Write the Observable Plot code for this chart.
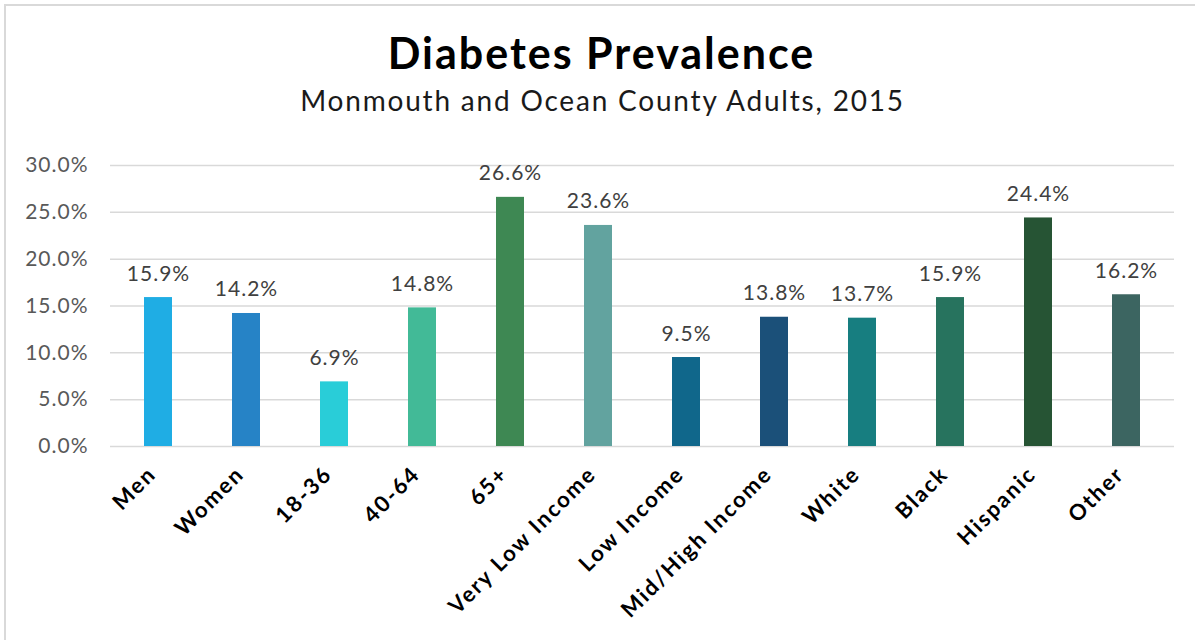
<!DOCTYPE html>
<html>
<head>
<meta charset="utf-8">
<script src="https://cdn.jsdelivr.net/npm/d3@7"></script>
<script src="https://cdn.jsdelivr.net/npm/@observablehq/plot@0.6"></script>
<style>
  html, body { margin: 0; padding: 0; background: #fff; width: 1195px; height: 640px; overflow: hidden; }
  body { font-family: "Century Gothic", "URW Gothic", Lato, sans-serif; position: relative; }
  #frame { position: absolute; left: 4px; top: 4px; width: 1400px; height: 900px; border-left: 2px solid #d9d9d9; border-top: 2px solid #d9d9d9; }
  #title { position: absolute; left: 4px; width: 1195px; top: 27px; text-align: center; font-size: 43px; font-weight: bold; letter-spacing: 2px; color: #000; }
  #subtitle { position: absolute; left: 5px; width: 1195px; top: 83px; text-align: center; font-size: 28px; letter-spacing: 1.8px; color: #1a1a1a; }
  #chart { position: absolute; left: 0; top: 140px; }
  #chart g.xlab text { letter-spacing: 2px; }
</style>
</head>
<body>
<div id="frame"></div>
<div id="title">Diabetes Prevalence</div>
<div id="subtitle">Monmouth and Ocean County Adults, 2015</div>
<div id="chart"></div>
<script>
const categories = ["Men", "Women", "18-36", "40-64", "65+", "Very Low Income", "Low Income", "Mid/High Income", "White", "Black", "Hispanic", "Other"];
const values = [15.9, 14.2, 6.9, 14.8, 26.6, 23.6, 9.5, 13.8, 13.7, 15.9, 24.4, 16.2];
const barColors = ["#1fade4", "#2683c6", "#29cdd8", "#42ba97", "#3e8853", "#62a39f", "#10678b", "#1b5079", "#177e80", "#27735e", "#265434", "#3c6561"];
const yTicks = [0, 5, 10, 15, 20, 25, 30];

const data = categories.map((c, i) => ({cat: c, value: values[i]}));
const fmt = v => v.toFixed(1) + "%";

const chart = Plot.plot({
  width: 1195,
  height: 500,
  marginLeft: 110,
  marginRight: 21,
  marginTop: 25,
  marginBottom: 194,
  style: {fontFamily: '"Century Gothic", "URW Gothic", Lato, sans-serif', background: "transparent", letterSpacing: "1px"},
  x: {domain: categories, paddingInner: 0.684, paddingOuter: 0.342, axis: null},
  y: {domain: [0, 30], axis: null},
  color: {domain: categories, range: barColors},
  marks: [
    Plot.gridY(yTicks, {stroke: "#d9d9d9", strokeOpacity: 1, strokeWidth: 1.5}),
    Plot.axisY(yTicks, {tickSize: 0, tickPadding: 22, fontSize: 21, color: "#595959", tickFormat: fmt, label: null}),
    Plot.barY(data, {x: "cat", y: "value", fill: "cat"}),
    Plot.text(data, {x: "cat", y: "value", text: d => fmt(d.value), dy: -17, lineAnchor: "bottom", fontSize: 21, fill: "#404040"}),
    Plot.text(data, {x: "cat", text: "cat", frameAnchor: "bottom", dy: 24, dx: -6, rotate: -45, textAnchor: "end", lineAnchor: "middle", fontSize: 22, fontWeight: "bold", fill: "#000", className: "xlab"})
  ]
});
document.getElementById("chart").appendChild(chart);
</script>
</body>
</html>
